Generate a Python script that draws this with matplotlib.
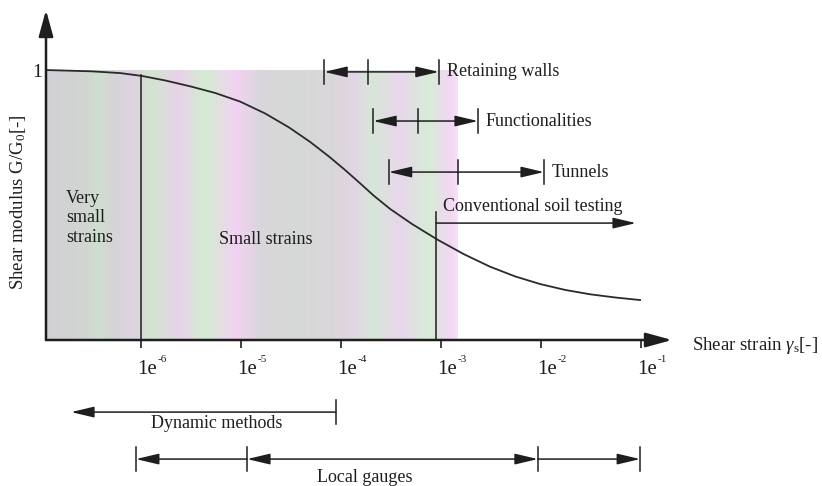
import numpy as np
import matplotlib
matplotlib.use('Agg')
import matplotlib.pyplot as plt
from matplotlib.path import Path

plt.rcParams['font.family'] = ['Liberation Serif', 'DejaVu Serif']
plt.rcParams['mathtext.fontset'] = 'custom'
plt.rcParams['mathtext.rm'] = 'Liberation Serif'
plt.rcParams['mathtext.it'] = 'Liberation Serif:italic'

# ---------------- data ----------------
strain = [1.1e-7, 3.9e-7, 1.0e-6, 3.1e-6, 9.8e-6, 3.1e-5, 7.8e-5, 1.55e-4,
          2.9e-4, 9.1e-4, 3.1e-3, 9.8e-3, 3.1e-2, 9.8e-2]
g_ratio = [1.0, 0.996, 0.981, 0.941, 0.889, 0.789, 0.678, 0.581,
           0.489, 0.370, 0.267, 0.204, 0.167, 0.148]
tick_strains = [1e-6, 1e-5, 1e-4, 1e-3, 1e-2, 1e-1]
tick_exponents = ['-6', '-5', '-4', '-3', '-2', '-1']

app_names = ['Retaining walls', 'Functionalities', 'Tunnels']
app_ranges = [(6.8e-5, 1.86e-4, 9.5e-4),
              (2.1e-4, 5.9e-4, 2.34e-3),
              (3.0e-4, 1.48e-3, 1.07e-2)]
app_levels = [0.993, 0.811, 0.622]
conv_name = 'Conventional soil testing'
conv_range = (8.9e-4, 8.9e-2)
very_small_limit = 1e-6
dynamic_name = 'Dynamic methods'
dynamic_range = (2.0e-7, 8.9e-5)
gauges_name = 'Local gauges'
gauge_bars = [8.9e-7, 1.15e-5, 9.3e-3, 9.8e-2]

# ---------------- style ----------------
INK = '#1e1e1e'
bg_lx = [-6.95, -6.56, -6.44, -6.29, -6.09, -6.0, -5.89, -5.61, -5.36, -5.05,
         -4.79, -4.41, -4.01, -3.86, -3.69, -3.41, -3.11, -2.91, -2.83]
bg_rgb = [(208, 208, 212), (210, 212, 210), (206, 222, 206), (212, 212, 214),
          (222, 210, 226), (214, 218, 214), (210, 228, 210), (232, 210, 232),
          (210, 236, 210), (242, 210, 242), (216, 214, 218), (214, 216, 214),
          (218, 214, 220), (224, 214, 228), (214, 230, 214), (232, 214, 236),
          (214, 236, 214), (242, 214, 242), (246, 226, 246)]

fig = plt.figure(figsize=(8.22, 4.86), dpi=100)
ax = fig.add_axes([46 / 822, 146 / 486, (672 - 46) / 822, (340 - 10) / 486])
ax.set_xscale('log')
ax.set_xlim(10 ** -6.95, 10 ** -0.69)
ax.set_ylim(0, 330 / 270)
for s in ax.spines.values():
    s.set_visible(False)

# background band
n = 400
lx = np.linspace(bg_lx[0], bg_lx[-1], n + 1)
mid = 0.5 * (lx[:-1] + lx[1:])
rgb = np.array(bg_rgb) / 255.0
cols = np.stack([np.interp(mid, bg_lx, rgb[:, k]) for k in range(3)], axis=-1)
ax.pcolormesh(10 ** lx, [0, 1], cols[np.newaxis, :, :], shading='flat',
              zorder=0, rasterized=True)

# axes arrows
AX_ARW = dict(arrowstyle='-|>,head_length=0.8,head_width=0.22', color=INK,
              lw=1.8, mutation_scale=20, shrinkA=0, shrinkB=0)
ax.annotate('', xy=(1, 0), xytext=(0, 0), xycoords='axes fraction',
            arrowprops=AX_ARW, zorder=5)
ax.annotate('', xy=(0, 1), xytext=(0, 0), xycoords='axes fraction',
            arrowprops=AX_ARW, zorder=5)

# ticks
ax.set_xticks(tick_strains)
ax.set_xticklabels([])
ax.xaxis.set_minor_locator(matplotlib.ticker.NullLocator())
ax.tick_params(axis='x', direction='out', length=6, width=1.2, color=INK)
for t, e in zip(tick_strains, tick_exponents):
    ax.annotate('1e', xy=(t, 0), xycoords=('data', 'axes fraction'),
                xytext=(-3, -21), textcoords='offset points',
                ha='left', va='center', fontsize=15, color=INK,
                annotation_clip=False)
    ax.annotate(e, xy=(t, 0), xycoords=('data', 'axes fraction'),
                xytext=(12, -14), textcoords='offset points',
                ha='left', va='center', fontsize=8, color=INK,
                annotation_clip=False)
ax.set_yticks([1])
ax.set_yticklabels(['1'], fontsize=14, color=INK)
ax.tick_params(axis='y', length=0, pad=3)

# curve (smooth quadratic Bezier through the read points, in log-x space)
lxs = np.log10(strain)
gs = np.array(g_ratio)
verts = [(lxs[0], gs[0])]
codes = [Path.MOVETO]
for i in range(1, len(lxs) - 1):
    mx, my = 0.5 * (lxs[i] + lxs[i + 1]), 0.5 * (gs[i] + gs[i + 1])
    verts += [(lxs[i], gs[i]), (mx, my)]
    codes += [Path.CURVE3, Path.CURVE3]
verts.append((lxs[-1], gs[-1]))
codes.append(Path.LINETO)
path = Path(verts, codes)
pts = np.vstack([seg for seg in path.to_polygons(closed_only=False)])
ax.plot(10 ** pts[:, 0], pts[:, 1], color='#2a2a2a', lw=1.3, zorder=3)

# vertical limit lines
ax.plot([very_small_limit, very_small_limit], [0, 0.981], color=INK, lw=1.1, zorder=3)
ax.plot([conv_range[0], conv_range[0]], [0, 0.474], color=INK, lw=1.1, zorder=3)

ARW = dict(arrowstyle='-|>,head_length=1.4,head_width=0.33', color=INK,
           lw=1.1, mutation_scale=10, shrinkA=0, shrinkB=0)
ARW2 = dict(arrowstyle='<|-|>,head_length=1.4,head_width=0.33', color=INK,
            lw=1.1, mutation_scale=10, shrinkA=0, shrinkB=0)


def bar(x, y, h=0.043):
    ax.plot([x, x], [y - h, y + h], color=INK, lw=1.1, clip_on=False, zorder=4)


def arrow(x0, x1, y, props=ARW):
    ax.annotate('', xy=(x1, y), xytext=(x0, y), arrowprops=props,
                annotation_clip=False, zorder=4)


# application ranges
for name, (a, m, b), y in zip(app_names, app_ranges, app_levels):
    for x in (a, m, b):
        bar(x, y)
    arrow(m, a, y)
    arrow(m, b, y)
    ax.text(b * 10 ** 0.08, y, name, ha='left', va='center', fontsize=13, color=INK)

# conventional soil testing
arrow(conv_range[0], conv_range[1], 0.433)
ax.text(conv_range[0] * 10 ** 0.07, 0.496, conv_name, ha='left', va='center',
        fontsize=13, color=INK)

# region labels
ax.text(10 ** -6.75, 0.452, 'Very\nsmall\nstrains', ha='left', va='center',
        fontsize=13, color=INK, linespacing=1.2)
ax.text(10 ** -4.75, 0.374, 'Small strains', ha='center', va='center',
        fontsize=13, color=INK)

# dynamic methods
bar(dynamic_range[1], -0.267)
arrow(dynamic_range[1], dynamic_range[0], -0.267)
ax.text(10 ** -5.24, -0.311, dynamic_name, ha='center', va='center',
        fontsize=13, color=INK, clip_on=False)

# local gauges
yg = -0.441
for x in gauge_bars:
    bar(x, yg)
arrow(gauge_bars[1], gauge_bars[0], yg)
arrow(gauge_bars[1], gauge_bars[2], yg, ARW2)
arrow(gauge_bars[2], gauge_bars[3], yg)
ax.text(10 ** -3.76, -0.508, gauges_name, ha='center', va='center',
        fontsize=13, color=INK, clip_on=False)

# axis labels
fig.text(18 / 822, 1 - 202 / 486, 'Shear modulus G/G$_{\\mathregular{0}}$[-]',
         rotation=90, ha='center', va='center', fontsize=13.5, color=INK)
fig.text(692 / 822, 1 - 345 / 486, 'Shear strain $\\gamma_{\\mathregular{s}}$[-]',
         ha='left', va='center', fontsize=13.5, color=INK)

fig.savefig('out.png', dpi=100)
